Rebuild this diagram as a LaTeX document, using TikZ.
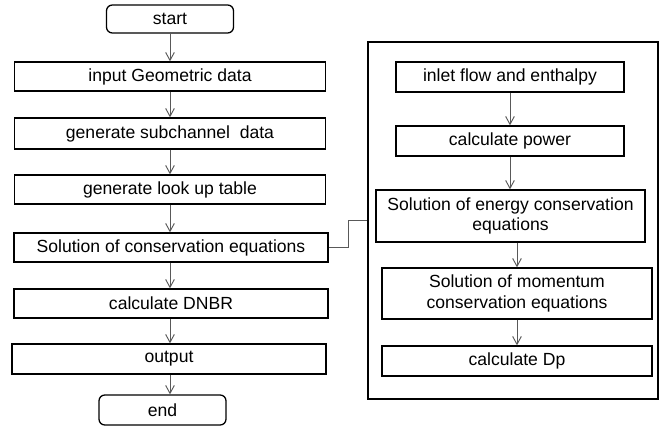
\documentclass[tikz,border=0pt]{standalone}
\usepackage{fontspec}
\setmainfont{Liberation Sans}
\usetikzlibrary{arrows.meta}

\begin{document}
\begin{tikzpicture}[
    x=0.03cm,y=-0.03cm,
    every node/.style={font=\fontsize{15}{17.5}\selectfont},
    box/.style={draw,line width=1.1pt,inner sep=0pt,align=center},
    term/.style={box,rounded corners=5pt},
    flow/.style={-{Straight Barb[length=2.4mm,width=2.6mm]},draw=black!65,line width=.8pt}]
    \def\px{0.03cm}

    \useasboundingbox (0,0) rectangle (659,428);

    % main program
    \node[term,minimum width=127*\px,minimum height=28*\px] (start) at (170,19) {start};
    \node[box,minimum width=311*\px,minimum height=29*\px] (geo) at (170,76.5) {input Geometric data};
    \node[box,minimum width=311*\px,minimum height=31*\px] (subch) at (170,133.5) {generate subchannel\ \ data};
    \node[box,minimum width=311*\px,minimum height=29*\px] (look) at (170,189.5) {generate look up table};
    \node[box,minimum width=314*\px,minimum height=29*\px] (sol) at (171,247.5) {Solution of conservation equations};
    \node[box,minimum width=314*\px,minimum height=29*\px] (dnbr) at (171,303.5) {calculate DNBR};
    \node[box,minimum width=314*\px,minimum height=30*\px] (out) at (169,359) {output};
    \node[term,minimum width=127*\px,minimum height=30*\px] (end) at (162.5,410) {end};

    \draw[flow] (start.south) -- (start.south |- geo.north);
    \draw[flow] (geo.south) -- (geo.south |- subch.north);
    \draw[flow] (subch.south) -- (subch.south |- look.north);
    \draw[flow] (look.south) -- (look.south |- sol.north);
    \draw[flow] (sol.south -| look.south) -- (look.south |- dnbr.north);
    \draw[flow] (dnbr.south -| look.south) -- (look.south |- out.north);
    \draw[flow] (out.south -| look.south) -- (look.south |- end.north);

    % solver
    \node[draw,line width=2pt,inner sep=0pt,minimum width=290*\px,minimum height=357*\px] (calc) at (513,220.5) {};
    \node[box,minimum width=228*\px,minimum height=30*\px] (inlet) at (510,77) {inlet flow and enthalpy};
    \node[box,minimum width=228*\px,minimum height=30*\px] (power) at (510,141) {calculate power};
    \node[box,minimum width=269*\px,minimum height=52*\px] (energy) at (510.5,216) {Solution of energy conservation\\equations};
    \node[box,minimum width=270*\px,minimum height=51*\px] (mom) at (517,293.5) {Solution of momentum\\conservation equations};
    \node[box,minimum width=270*\px,minimum height=30*\px] (dp) at (517,361) {calculate Dp};

    \draw[flow] (inlet.south) -- (power.north);
    \draw[flow] (power.south) -- (power.south |- energy.north);
    \draw[flow] (mom.north |- energy.south) -- (mom.north);
    \draw[flow] (mom.south) -- (dp.north);

    \draw[draw=black!65,line width=.8pt] (sol.east) -- ++(20,0) |- (calc.west);
\end{tikzpicture}
\end{document}
